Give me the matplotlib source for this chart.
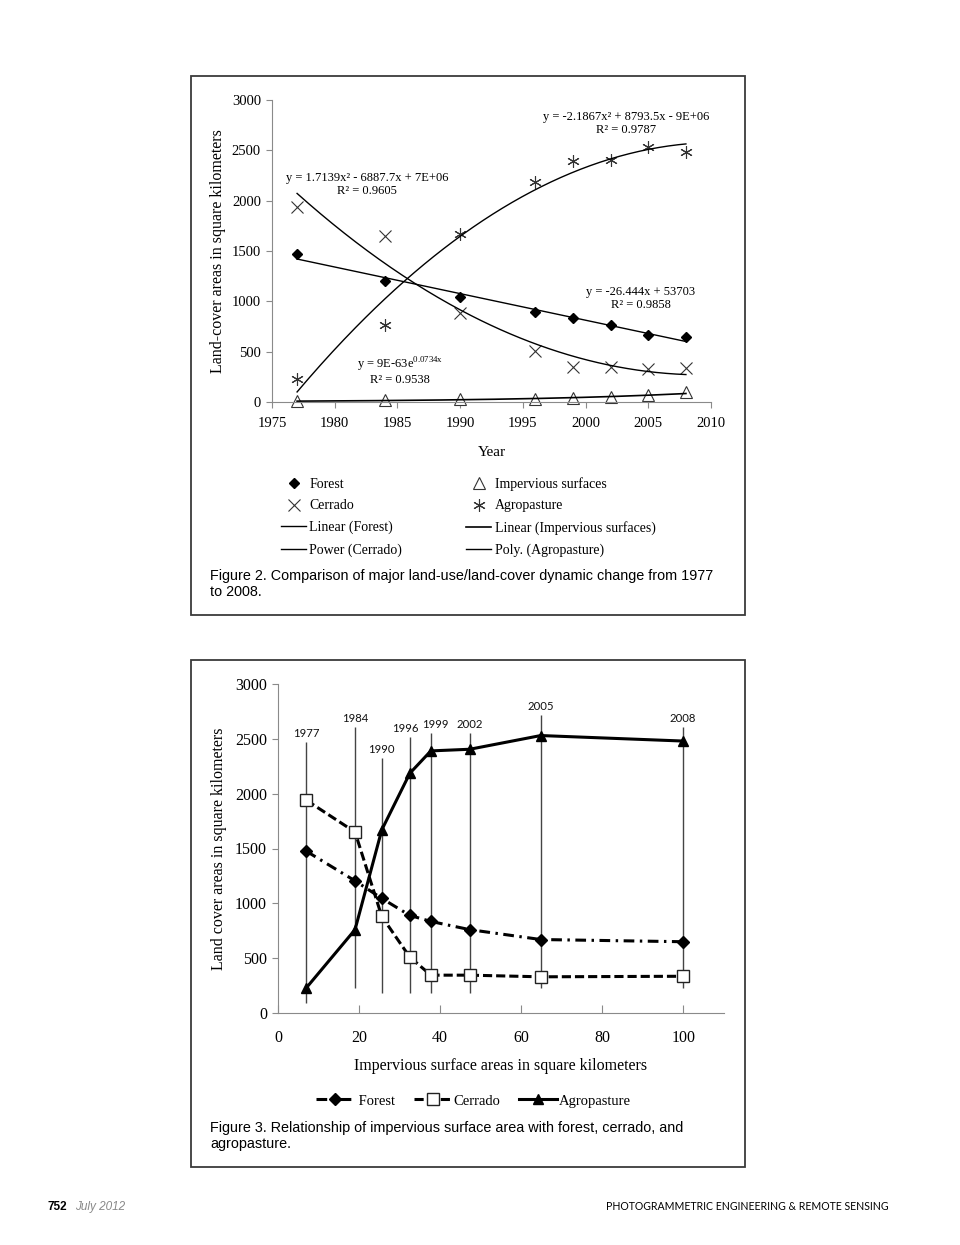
import numpy as np
import matplotlib.pyplot as plt
from matplotlib.patches import Rectangle

plt.rcParams['font.family'] = ['Liberation Serif', 'DejaVu Serif']
plt.rcParams['mathtext.fontset'] = 'custom'
plt.rcParams['mathtext.rm'] = 'Liberation Serif'

# data
years = np.array([1977, 1984, 1990, 1996, 1999, 2002, 2005, 2008])
forest = np.array([1475, 1205, 1045, 890, 835, 760, 670, 650])
cerrado = np.array([1940, 1650, 880, 510, 345, 345, 330, 335])
agropasture = np.array([230, 760, 1670, 2185, 2390, 2405, 2530, 2480])
impervious = np.array([7, 19, 25.6, 32.5, 37.7, 47.3, 64.8, 99.8])

# vertical reference lines of figure 3 (bottom / top, km2)
vline_bottom = [91, 228, 182, 182, 182, 182, 228, 228]
vline_top = [2470, 2607, 2325, 2516, 2550, 2550, 2717, 2607]
# small sideways nudge of the year labels (points), so 1996/1999 don't collide
label_nudge = [0, 0, 0, -3, 3, 0, 0, 0]

W, H = 960, 1245
SANS = ['Liberation Sans', 'DejaVu Sans']


def fx(x):
    return x / W


def fy(y):
    return 1 - y / H


fig = plt.figure(figsize=(9.6, 12.45), dpi=100)

# panel frames
for top, bot in [(76, 615), (660, 1167)]:
    fig.add_artist(Rectangle((fx(191), fy(bot)), fx(745) - fx(191), (bot - top) / H,
                             transform=fig.transFigure, fill=False, ec='#3a3a3a', lw=1.3))

# ---------------- Figure 2 ----------------
ax1 = fig.add_axes([fx(272), fy(402), 439 / W, 302 / H])
ax1.set_xlim(1975, 2010)
ax1.set_ylim(0, 3000)
ax1.set_xticks(range(1975, 2011, 5))
ax1.set_yticks(range(0, 3001, 500))
for s in ['top', 'right']:
    ax1.spines[s].set_visible(False)
for s in ['left', 'bottom']:
    ax1.spines[s].set_color('#8a8a8a')
ax1.tick_params(length=4, color='#8a8a8a', labelsize=10.5)
ax1.tick_params(axis='x', pad=7)
ax1.tick_params(axis='y', pad=4)
ax1.set_xlabel('Year', fontsize=11, labelpad=11)
ax1.set_ylabel('Land-cover areas in square kilometers', fontsize=11.5, labelpad=4)

p_forest, = ax1.plot(years, forest, ls='none', marker='D', color='k', ms=5.5, clip_on=False)
p_cerr, = ax1.plot(years, cerrado, ls='none', marker='x', color='#333', ms=8, mew=0.8, clip_on=False)
p_imp, = ax1.plot(years, impervious, ls='none', marker='^', mfc='white', mec='#333',
                  ms=8, mew=0.8, clip_on=False)
p_agro, = ax1.plot(years, agropasture, ls='none', marker=(6, 2, 0), color='#333', ms=9,
                   mew=0.8, clip_on=False)

xs = np.linspace(1977, 2008, 200)
t_forest, = ax1.plot(xs, np.polyval(np.polyfit(years, forest, 1), xs), color='k', lw=1)
t_cerr, = ax1.plot(xs, np.polyval(np.polyfit(years - 1977, cerrado, 2), xs - 1977), color='k', lw=1)
t_agro, = ax1.plot(xs, np.polyval(np.polyfit(years - 1977, agropasture, 2), xs - 1977), color='k', lw=1)
b, a = np.polyfit(years, np.log(impervious), 1)
t_imp, = ax1.plot(xs, np.exp(a + b * xs), color='k', lw=1.2)

eq_kw = dict(fontsize=9, ha='center', va='center')
ax1.text(2003.2, 2830, 'y = -2.1867x² + 8793.5x - 9E+06', **eq_kw)
ax1.text(2003.2, 2701, 'R² = 0.9787', **eq_kw)
ax1.text(1982.6, 2224, 'y = 1.7139x² - 6887.7x + 7E+06', **eq_kw)
ax1.text(1982.6, 2095, 'R² = 0.9605', **eq_kw)
ax1.text(2004.4, 1092, 'y = -26.444x + 53703', **eq_kw)
ax1.text(2004.4, 963, 'R² = 0.9858', **eq_kw)
ax1.text(1985.2, 367, r'y = 9E-63e$^{\mathrm{0.0734x}}$', **eq_kw)
ax1.text(1985.2, 218, 'R² = 0.9538', **eq_kw)

fig.legend([p_forest, p_cerr, t_forest, t_cerr, p_imp, p_agro, t_imp, t_agro],
           ['Forest', 'Cerrado', 'Linear (Forest)', 'Power (Cerrado)',
            'Impervious surfaces', 'Agropasture', 'Linear (Impervious surfaces)',
            'Poly. (Agropasture)'],
           ncol=2, loc='upper left', bbox_to_anchor=(fx(281), fy(477)), frameon=False,
           fontsize=10, handlelength=1.8, handletextpad=0.25, columnspacing=4.6,
           labelspacing=0.62, borderpad=0, borderaxespad=0)

fig.text(fx(210), fy(576), 'Figure 2. Comparison of major land-use/land-cover dynamic change from 1977',
         family=SANS, fontsize=10.4, va='center')
fig.text(fx(210), fy(592), 'to 2008.', family=SANS, fontsize=10.4, va='center')

# ---------------- Figure 3 ----------------
ax2 = fig.add_axes([fx(278), fy(1013), 446 / W, 329 / H])
ax2.set_xlim(0, 110)
ax2.set_ylim(0, 3000)
ax2.set_xticks(range(0, 101, 20))
ax2.set_yticks(range(0, 3001, 500))
for s in ['top', 'right']:
    ax2.spines[s].set_visible(False)
for s in ['left', 'bottom']:
    ax2.spines[s].set_color('#8a8a8a')
ax2.tick_params(axis='x', direction='in', length=6, color='#8a8a8a', labelsize=11.5, pad=12)
ax2.tick_params(axis='y', length=4, color='#8a8a8a', labelsize=11.5, pad=4)
ax2.set_xlabel('Impervious surface areas in square kilometers', fontsize=11.5, labelpad=9)
ax2.set_ylabel('Land cover areas in square kilometers', fontsize=11.5, labelpad=6)

ax2.vlines(impervious, vline_bottom, vline_top, color='#444', lw=1, zorder=1)
for x, t, yr, dx in zip(impervious, vline_top, years, label_nudge):
    ax2.annotate(str(yr), (x, t), xytext=(dx, 2.5), textcoords='offset points',
                 ha='center', va='bottom', fontsize=8.2, color='#111',
                 family=['Lato', 'DejaVu Sans'])

ax2.plot(impervious, forest, color='k', lw=2.2, ls=(0, (3.5, 1.8, 0.8, 1.8)),
         marker='D', ms=6.5, label=' Forest', zorder=3)
ax2.plot(impervious, cerrado, color='k', lw=2.2, ls=(0, (3, 1.3)), marker='s',
         mfc='white', mec='#222', ms=9, mew=1, label='Cerrado', zorder=3)
ax2.plot(impervious, agropasture, color='k', lw=2.2, marker='^', ms=7,
         label='Agropasture', zorder=3)

fig.legend(*ax2.get_legend_handles_labels(), ncol=3, loc='center',
           bbox_to_anchor=(fx(473), fy(1101)), frameon=False, fontsize=10.5,
           handlelength=2.6, handletextpad=0.1, columnspacing=1.3)

fig.text(fx(210), fy(1128), 'Figure 3. Relationship of impervious surface area with forest, cerrado, and',
         family=SANS, fontsize=10.4, va='center')
fig.text(fx(210), fy(1144), 'agropasture.', family=SANS, fontsize=10.4, va='center')

# page footer
fig.text(fx(47), fy(1207), '752', family=SANS, fontsize=8.5, weight='bold', va='center')
fig.text(fx(75), fy(1207), 'July 2012', family=SANS, fontsize=8.5, style='italic',
         color='#888', va='center')
fig.text(fx(888), fy(1207), 'PHOTOGRAMMETRIC ENGINEERING & REMOTE SENSING',
         family=['Lato', 'DejaVu Sans'], fontsize=7.6, ha='right', va='center')

fig.savefig('out.png', dpi=100)
